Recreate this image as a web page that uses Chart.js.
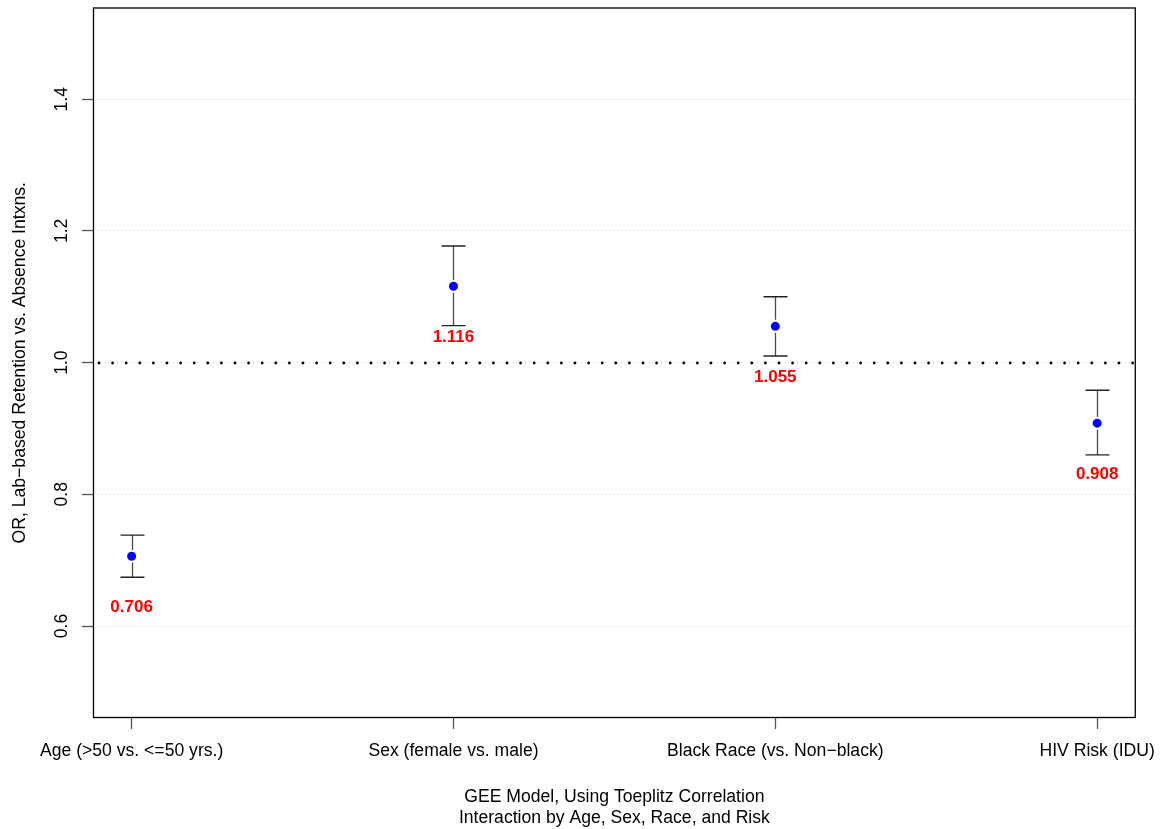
<!DOCTYPE html>
<html>
<head>
<meta charset="utf-8">
<script src="https://cdn.jsdelivr.net/npm/chart.js@4"></script>
<style>
  html, body { margin: 0; padding: 0; background: #ffffff; }
  canvas { display: block; }
</style>
</head>
<body>
<canvas id="orChart" width="1168" height="829"></canvas>
<script>
// Odds ratios with confidence intervals for each covariate
const categories = ['Age (>50 vs. <=50 yrs.)', 'Sex (female vs. male)', 'Black Race (vs. Non\u2212black)', 'HIV Risk (IDU)'];
const oddsRatio = [0.706, 1.116, 1.055, 0.908];
const ciLower = [0.674, 1.056, 1.010, 0.860];
const ciUpper = [0.738, 1.177, 1.100, 0.958];
const yTicks = [0.6, 0.8, 1.0, 1.2, 1.4];
const referenceOR = 1.0;
const yAxisTitle = 'OR, Lab\u2212based Retention vs. Absence Intxns.';
const xAxisTitle = ['GEE Model, Using Toeplitz Correlation', 'Interaction by Age, Sex, Race, and Risk'];

const FONT = 'Liberation Sans, Arial, Helvetica, sans-serif';
const AXIS_FONT_SIZE = 17.6;

const points = oddsRatio.map((v, i) => ({ x: i + 1, y: v }));

const plotDecor = {
  id: 'plotDecor',
  beforeDatasetsDraw(chart) {
    const { ctx, chartArea: a, scales: { x, y } } = chart;
    ctx.save();
    // reference line at OR = 1
    const yr = Math.round(y.getPixelForValue(referenceOR));
    ctx.strokeStyle = '#000';
    ctx.lineWidth = 2.8;
    ctx.lineCap = 'round';
    ctx.setLineDash([0, 13.6]);
    ctx.beginPath();
    ctx.moveTo(a.left + 6, yr);
    ctx.lineTo(a.right, yr);
    ctx.stroke();
    ctx.setLineDash([]);
    // confidence interval whiskers
    ctx.lineCap = 'butt';
    ctx.lineWidth = 1.3;
    for (let i = 0; i < oddsRatio.length; i++) {
      const px = Math.round(x.getPixelForValue(i + 1)) + 0.5;
      const yl = y.getPixelForValue(ciLower[i]);
      const yu = y.getPixelForValue(ciUpper[i]);
      ctx.strokeStyle = '#4a4a4a';
      ctx.beginPath();
      ctx.moveTo(px, yu); ctx.lineTo(px, yl);
      ctx.stroke();
      ctx.strokeStyle = '#222';
      ctx.beginPath();
      ctx.moveTo(px - 12, yu); ctx.lineTo(px + 12, yu);
      ctx.moveTo(px - 12, yl); ctx.lineTo(px + 12, yl);
      ctx.stroke();
    }
    ctx.restore();
  },
  afterDatasetsDraw(chart) {
    const { ctx, chartArea: a, scales: { x, y } } = chart;
    ctx.save();
    // value labels
    ctx.fillStyle = '#ff0000';
    ctx.font = 'bold 17px ' + FONT;
    ctx.textAlign = 'center';
    ctx.textBaseline = 'middle';
    for (let i = 0; i < oddsRatio.length; i++) {
      const px = x.getPixelForValue(i + 1);
      const py = y.getPixelForValue(oddsRatio[i]);
      ctx.fillText(oddsRatio[i].toFixed(3), px, py + 51);
    }
    // plot box
    ctx.strokeStyle = '#000';
    ctx.lineWidth = 1.3;
    ctx.strokeRect(a.left + 0.5, a.top + 0.5, a.right - a.left - 1, a.bottom - a.top - 1);
    // rotated y tick labels
    ctx.fillStyle = '#000';
    ctx.font = AXIS_FONT_SIZE + 'px ' + FONT;
    for (const v of yTicks) {
      ctx.save();
      ctx.translate(62.5, y.getPixelForValue(v));
      ctx.rotate(-Math.PI / 2);
      ctx.fillText(v.toFixed(1), 0, 0);
      ctx.restore();
    }
    ctx.restore();
  }
};

new Chart(document.getElementById('orChart'), {
  type: 'scatter',
  data: {
    datasets: [{
      data: points,
      pointRadius: 5.5,
      pointHoverRadius: 5.5,
      pointBackgroundColor: '#0000ff',
      pointBorderColor: '#ffffff',
      pointBorderWidth: 2,
      showLine: false
    }]
  },
  options: {
    responsive: false,
    animation: false,
    devicePixelRatio: 1,
    layout: { padding: { top: 7, right: 32, left: 0, bottom: 0 } },
    plugins: { legend: { display: false }, tooltip: { enabled: false } },
    scales: {
      x: {
        type: 'linear',
        min: 0.88,
        max: 4.12,
        afterBuildTicks(scale) { scale.ticks = categories.map((_, i) => ({ value: i + 1 })); },
        afterFit(scale) { scale.height = 111; },
        border: { display: false },
        grid: { drawOnChartArea: false, drawTicks: true, tickLength: 11, tickColor: '#555', tickWidth: 1.3 },
        ticks: {
          autoSkip: false, maxRotation: 0, minRotation: 0, padding: 12,
          color: '#000', font: { family: FONT, size: AXIS_FONT_SIZE },
          callback: (value, index) => categories[index]
        },
        title: {
          display: true, text: xAxisTitle, color: '#000',
          font: { family: FONT, size: AXIS_FONT_SIZE, lineHeight: 1.193 },
          padding: { top: 0, bottom: 0 }
        }
      },
      y: {
        min: 0.4603,
        max: 1.5392,
        afterBuildTicks(scale) { scale.ticks = yTicks.map(v => ({ value: v })); },
        afterFit(scale) { scale.width = 93; },
        border: { display: false, dash: [1, 3] },
        grid: {
          color: '#cfcfcf', lineWidth: 1,
          drawTicks: true, tickLength: 11, tickColor: '#555', tickWidth: 1.3, tickBorderDash: [0, 0]
        },
        ticks: { display: false },
        title: {
          display: true, text: yAxisTitle, color: '#000',
          font: { family: FONT, size: AXIS_FONT_SIZE },
          padding: { top: 9.5, bottom: 0 }
        }
      }
    }
  },
  plugins: [plotDecor]
});
</script>
</body>
</html>
